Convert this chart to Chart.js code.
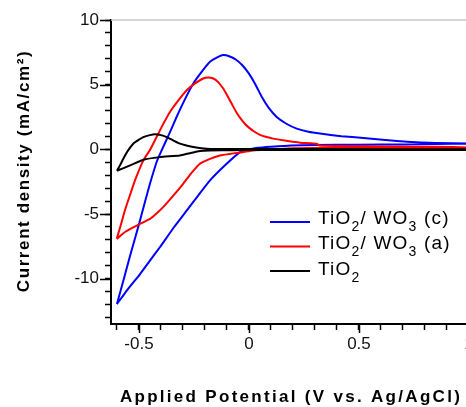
<!DOCTYPE html>
<html>
<head>
<meta charset="utf-8">
<script src="https://cdn.jsdelivr.net/npm/chart.js@4.4.0/dist/chart.umd.min.js"></script>
<style>
  html, body { margin: 0; padding: 0; background: #fff; overflow: hidden; }
  #wrap { width: 466px; height: 407px; overflow: hidden; }
</style>
</head>
<body>
<div id="wrap"><canvas id="cv" width="480" height="407"></canvas></div>
<script>
// one closed sweep per sample: from -0.6 V up to 1.0 V and back again
const seriesNames = ['TiO2/ WO3 (c)', 'TiO2/ WO3 (a)', 'TiO2'];
const seriesColors = ['#0000ff', '#ff0000', '#000000'];

const potC = [-0.60, -0.57, -0.54, -0.50, -0.47, -0.45, -0.42, -0.40, -0.36, -0.329, -0.29, -0.253, -0.21, -0.177, -0.14, -0.117, -0.09, -0.06, -0.03, 0.0, 0.03, 0.06, 0.09, 0.126, 0.17, 0.217, 0.27, 0.323, 0.42, 0.52, 0.62, 0.717, 0.85, 1.0,
              1.0, 0.85, 0.70, 0.50, 0.30, 0.19, 0.10, 0.04, 0.0, -0.041, -0.11, -0.177, -0.23, -0.283, -0.34, -0.405, -0.45, -0.495, -0.55, -0.60];
const curC = [-11.96, -10.1, -8.2, -5.8, -3.9, -2.66, -1.0, -0.2, 1.3, 2.5, 3.9, 5.09, 6.1, 6.77, 7.15, 7.29, 7.2, 6.95, 6.5, 5.85, 5.0, 4.0, 3.2, 2.5, 1.98, 1.6, 1.36, 1.22, 1.02, 0.88, 0.72, 0.58, 0.5, 0.45,
              0.44, 0.41, 0.38, 0.36, 0.34, 0.3, 0.2, 0.12, 0.0, -0.21, -1.25, -2.4, -3.55, -4.73, -6.0, -7.57, -8.6, -9.64, -10.8, -11.96];

const potA = [-0.601, -0.58, -0.564, -0.54, -0.518, -0.48, -0.45, -0.42, -0.39, -0.359, -0.32, -0.283, -0.245, -0.208, -0.185, -0.162, -0.14, -0.117, -0.10, -0.079, -0.06, -0.041, -0.02, 0.0, 0.02, 0.05, 0.08, 0.11, 0.17, 0.232, 0.308, 0.32, 0.45, 0.60, 0.85, 1.0,
              1.0, 0.60, 0.30, 0.20, 0.10, 0.02, -0.03, -0.08, -0.132, -0.18, -0.223, -0.26, -0.299, -0.345, -0.39, -0.42, -0.45, -0.51, -0.56, -0.601];
const curA = [-6.92, -5.7, -4.73, -3.5, -2.4, -0.85, -0.05, 0.95, 1.95, 2.89, 3.8, 4.57, 5.1, 5.48, 5.55, 5.48, 5.2, 4.7, 4.2, 3.54, 2.95, 2.45, 2.0, 1.68, 1.42, 1.12, 0.95, 0.83, 0.66, 0.52, 0.44, 0.3, 0.25, 0.22, 0.2, 0.15,
              0.1, 0.1, 0.1, 0.08, -0.02, -0.08, -0.22, -0.33, -0.47, -0.75, -1.11, -1.8, -2.66, -3.6, -4.47, -4.95, -5.37, -5.89, -6.35, -6.92];

const potT = [-0.60, -0.585, -0.571, -0.55, -0.526, -0.50, -0.48, -0.45, -0.427, -0.40, -0.374, -0.345, -0.314, -0.28, -0.253, -0.192, -0.07, 0.3, 1.0,
              1.0, 0.3, 0.0, -0.07, -0.177, -0.223, -0.27, -0.314, -0.405, -0.48, -0.54, -0.60];
const curT = [-1.65, -1.2, -0.72, -0.1, 0.44, 0.75, 0.95, 1.1, 1.16, 1.1, 0.95, 0.7, 0.44, 0.28, 0.18, 0.05, 0.02, 0.02, 0.0,
              -0.05, -0.05, -0.05, -0.06, -0.08, -0.13, -0.3, -0.47, -0.6, -0.8, -1.24, -1.65];

const xMajor = [-0.5, 0, 0.5, 1];
const xTickLabels = ['-0.5', '0', '0.5', '1'];
const yMajor = [-10, -5, 0, 5, 10];
const yTickLabels = ['-10', '-5', '0', '5', '10'];

const xTitle = 'Applied Potential (V vs. Ag/AgCl)';
const yTitle = 'Current density (mA/cm\u00b2)';

const FONT = '"Liberation Sans", Arial, sans-serif';

const toPoints = (xs, ys) => xs.map((x, i) => ({ x: x, y: ys[i] }));
const curves = [[potC, curC], [potA, curA], [potT, curT]];

// frame extras: grey top line, longer major ticks, axis titles, legend
const framePlugin = {
    id: 'frame',
    beforeDatasetsDraw(chart) {
        const { ctx, chartArea: a } = chart;
        ctx.save();
        ctx.strokeStyle = '#c8c8c8';
        ctx.lineWidth = 1.5;
        ctx.beginPath();
        ctx.moveTo(a.left, a.top);
        ctx.lineTo(a.right, a.top);
        ctx.stroke();
        ctx.restore();
    },
    afterDraw(chart) {
        const { ctx, chartArea: a, scales } = chart;
        ctx.save();
        ctx.strokeStyle = '#000';
        ctx.lineWidth = 1.5;
        ctx.beginPath();
        yMajor.forEach(v => {
            const py = Math.round(scales.y.getPixelForValue(v)) + 0.5;
            ctx.moveTo(a.left - 11, py);
            ctx.lineTo(a.left, py);
        });
        xMajor.forEach(v => {
            const px = Math.round(scales.x.getPixelForValue(v)) + 0.5;
            ctx.moveTo(px, a.bottom);
            ctx.lineTo(px, a.bottom + 9);
        });
        ctx.stroke();

        // axis titles
        ctx.fillStyle = '#000';
        ctx.font = 'bold 17px ' + FONT;
        ctx.textAlign = 'center';
        ctx.textBaseline = 'middle';
        ctx.letterSpacing = '2.3px';
        ctx.fillText(xTitle, 291, 397);
        ctx.save();
        ctx.translate(24, 171);
        ctx.rotate(-Math.PI / 2);
        ctx.letterSpacing = '1.6px';
        ctx.fillText(yTitle, 0, 0);
        ctx.restore();

        // legend, digits after the formula letters drawn as subscripts
        ctx.letterSpacing = '1.2px';
        ctx.textAlign = 'left';
        ctx.textBaseline = 'alphabetic';
        seriesNames.forEach((name, i) => {
            const ly = 222 + i * 24.5;
            const by = 223.5 + i * 25.7;
            ctx.strokeStyle = seriesColors[i];
            ctx.lineWidth = 2;
            ctx.beginPath();
            ctx.moveTo(270, ly);
            ctx.lineTo(310, ly);
            ctx.stroke();
            let x = 318;
            name.split(/(\d)/).forEach((part, k) => {
                if (!part) return;
                const sub = k % 2 === 1;
                ctx.font = (sub ? '14px ' : '19px ') + FONT;
                ctx.fillStyle = '#000';
                ctx.fillText(part, x, sub ? by + 7 : by);
                x += ctx.measureText(part).width;
            });
        });
        ctx.restore();
    }
};

new Chart(document.getElementById('cv'), {
    type: 'scatter',
    data: {
        datasets: curves.map((c, i) => ({
            label: seriesNames[i],
            data: toPoints(c[0], c[1]),
            showLine: true,
            borderColor: seriesColors[i],
            backgroundColor: seriesColors[i],
            borderWidth: 2,
            pointRadius: 0,
            tension: 0.15,
            order: 3 - i
        }))
    },
    options: {
        responsive: false,
        animation: false,
        events: [],
        layout: { padding: { left: 51, top: 20, right: 11, bottom: 43 } },
        plugins: { legend: { display: false }, tooltip: { enabled: false } },
        scales: {
            x: {
                type: 'linear',
                min: -0.627, max: 1.0,
                afterFit: s => { s.height = 40; },
                border: { color: '#000', width: 2 },
                grid: { drawOnChartArea: false, tickLength: 6, tickColor: '#000', tickWidth: 1.5 },
                ticks: {
                    stepSize: 0.1, includeBounds: false, autoSkip: false, maxRotation: 0,
                    color: '#111', padding: 4, font: { family: FONT, size: 17 },
                    callback: v => {
                        const k = xMajor.findIndex(m => Math.abs(m - v) < 1e-6);
                        return k < 0 ? '' : xTickLabels[k];
                    }
                }
            },
            y: {
                min: -13.5, max: 10,
                afterFit: s => { s.width = 60; },
                border: { color: '#000', width: 2 },
                grid: { drawOnChartArea: false, tickLength: 6, tickColor: '#000', tickWidth: 1.5 },
                ticks: {
                    stepSize: 1, includeBounds: false, autoSkip: false,
                    color: '#111', padding: 6, font: { family: FONT, size: 17 },
                    callback: v => {
                        const k = yMajor.findIndex(m => Math.abs(m - v) < 1e-6);
                        return k < 0 ? '' : yTickLabels[k];
                    }
                }
            }
        }
    },
    plugins: [framePlugin]
});
</script>
</body>
</html>
